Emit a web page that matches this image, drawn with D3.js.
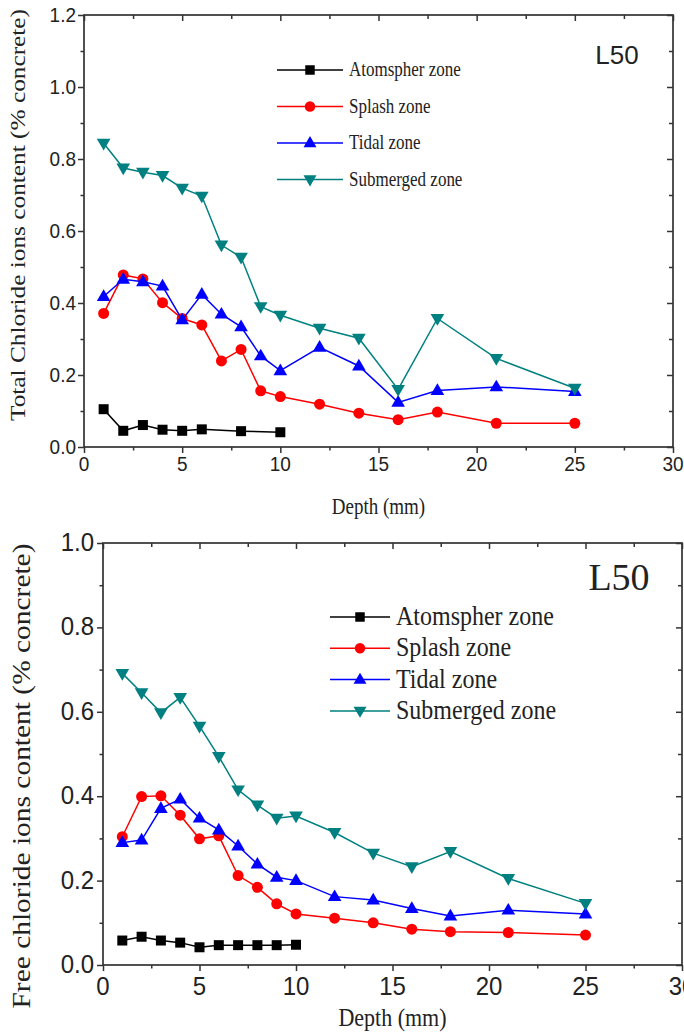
<!DOCTYPE html>
<html>
<head>
<meta charset="utf-8">
<script src="https://cdn.jsdelivr.net/npm/d3@7"></script>
<style>
  html, body { margin: 0; padding: 0; background: #fff; }
  svg { display: block; }
</style>
</head>
<body>
<svg id="chart" width="684" height="1034"></svg>
<script>
// Depths (mm) at which chloride content was sampled
const depthsAll = [1, 2, 3, 4, 5, 6, 7, 8, 9, 10, 12, 14, 16, 18, 21, 25];
const depthsAtmTotal = [1, 2, 3, 4, 5, 6, 8, 10];
const depthsAtmFree = [1, 2, 3, 4, 5, 6, 7, 8, 9, 10];

const zoneNames = ["Atomspher zone", "Splash zone", "Tidal zone", "Submerged zone"];
const zoneColors = ["#000000", "#ff0000", "#0000ff", "#008080"];
const zoneSymbols = ["square", "circle", "triangleUp", "triangleDown"];

// Total chloride ions content (% concrete)
const totalAtm = [0.105, 0.045, 0.061, 0.048, 0.045, 0.049, 0.044, 0.041];
const totalSplash = [0.371, 0.478, 0.467, 0.401, 0.357, 0.339, 0.239, 0.271, 0.156, 0.140, 0.119, 0.094, 0.076, 0.097, 0.066, 0.066];
const totalTidal = [0.418, 0.466, 0.459, 0.447, 0.353, 0.424, 0.369, 0.334, 0.253, 0.212, 0.277, 0.225, 0.124, 0.157, 0.167, 0.154];
const totalSubmerged = [0.844, 0.775, 0.763, 0.754, 0.719, 0.697, 0.561, 0.527, 0.390, 0.366, 0.330, 0.302, 0.160, 0.357, 0.246, 0.163];

// Free chloride ions content (% concrete)
const freeAtm = [0.058, 0.067, 0.058, 0.053, 0.042, 0.047, 0.047, 0.047, 0.047, 0.048];
const freeSplash = [0.304, 0.399, 0.401, 0.355, 0.299, 0.306, 0.212, 0.184, 0.145, 0.121, 0.111, 0.100, 0.085, 0.079, 0.077, 0.071];
const freeTidal = [0.290, 0.296, 0.371, 0.393, 0.348, 0.320, 0.282, 0.239, 0.208, 0.200, 0.162, 0.154, 0.134, 0.116, 0.130, 0.121];
const freeSubmerged = [0.691, 0.645, 0.598, 0.634, 0.566, 0.494, 0.415, 0.379, 0.348, 0.353, 0.314, 0.265, 0.233, 0.269, 0.205, 0.146];

// Axis ticks
const xTicks = [0, 5, 10, 15, 20, 25, 30];
const yTicksTotal = [0.0, 0.2, 0.4, 0.6, 0.8, 1.0, 1.2];
const yTicksFree = [0.0, 0.2, 0.4, 0.6, 0.8, 1.0];

const svg = d3.select("#chart");

function symbolPath(kind, size) {
  const s = size;
  if (kind === "square") return d3.symbol(d3.symbolSquare, s * s)();
  if (kind === "circle") return d3.symbol(d3.symbolCircle, Math.PI * (s / 2) * (s / 2))();
  const h = s * 0.9, w = s * 1.05;
  if (kind === "triangleUp") return `M0,${-h * 0.62}L${w / 2},${h * 0.38}L${-w / 2},${h * 0.38}Z`;
  return `M0,${h * 0.62}L${w / 2},${-h * 0.38}L${-w / 2},${-h * 0.38}Z`;
}

function stretchedText(g, x, y, str, opts) {
  return g.append("text")
    .attr("transform", `translate(${x},${y}) scale(1,${opts.sy || 1})`)
    .attr("font-family", opts.family)
    .attr("font-size", opts.size)
    .attr("text-anchor", opts.anchor || "start")
    .attr("fill", opts.fill || "#222")
    .text(str);
}

function drawPanel(cfg) {
  const g = svg.append("g");
  const x = d3.scaleLinear().domain([0, 30]).range([cfg.left, cfg.right]);
  const y = d3.scaleLinear().domain([0, cfg.yMax]).range([cfg.bottom, cfg.top]);
  const axisColor = "#333";

  // frame
  g.append("rect")
    .attr("x", cfg.left).attr("y", cfg.top)
    .attr("width", cfg.right - cfg.left).attr("height", cfg.bottom - cfg.top)
    .attr("fill", "none").attr("stroke", axisColor).attr("stroke-width", 1.7);

  const xMinor = d3.range(2.5, 30, 5);
  const yMinor = d3.range(0.1, cfg.yMax, 0.2);

  function ticks(axis, translate, values, size) {
    g.append("g").attr("transform", translate)
      .call(axis.tickValues(values).tickSize(size).tickFormat(""))
      .call(a => a.select(".domain").remove())
      .selectAll("line").attr("stroke", axisColor).attr("stroke-width", 1.5);
  }

  // bottom and left ticks point outward, top and right ticks point inward
  ticks(d3.axisBottom(x), `translate(0,${cfg.bottom})`, xTicks, 6);
  ticks(d3.axisBottom(x), `translate(0,${cfg.bottom})`, xMinor, 3.5);
  ticks(d3.axisTop(x), `translate(0,${cfg.top})`, xTicks, -6);
  ticks(d3.axisTop(x), `translate(0,${cfg.top})`, xMinor, -4);
  ticks(d3.axisLeft(y), `translate(${cfg.left},0)`, cfg.yTicks, 6);
  ticks(d3.axisLeft(y), `translate(${cfg.left},0)`, yMinor, 3.5);
  ticks(d3.axisRight(y), `translate(${cfg.right},0)`, cfg.yTicks, -6);
  ticks(d3.axisRight(y), `translate(${cfg.right},0)`, yMinor, -4);

  // tick labels
  const tickFont = { family: "'Liberation Sans', Arial, sans-serif", size: cfg.tickSize, sy: cfg.tickStretch, anchor: "middle" };
  xTicks.forEach(v => stretchedText(g, x(v), cfg.bottom + cfg.xLabelDy, String(v), tickFont));
  cfg.yTicks.forEach(v => stretchedText(g, cfg.left - cfg.yLabelDx, y(v) + cfg.yLabelDy, d3.format(".1f")(v),
    Object.assign({}, tickFont, { anchor: "end" })));

  // axis titles
  const serif = "'Liberation Serif', 'Times New Roman', serif";
  stretchedText(g, (cfg.left + cfg.right) / 2, cfg.xTitleY, "Depth (mm)",
    { family: serif, size: cfg.titleSize, sy: cfg.serifStretch, anchor: "middle" });
  g.append("text")
    .attr("transform", `translate(${cfg.yTitleX},${(cfg.top + cfg.bottom) / 2 + cfg.yTitleShift}) rotate(-90)`)
    .attr("font-family", serif).attr("font-size", cfg.yTitleSize)
    .attr("text-anchor", "middle").attr("fill", "#222")
    .attr("textLength", cfg.yTitleLength).attr("lengthAdjust", "spacingAndGlyphs")
    .text(cfg.yTitle);

  // series
  const line = d3.line().x(d => x(d[0])).y(d => y(d[1]));
  cfg.series.forEach((s, i) => {
    const pts = s.depths.map((d, k) => [d, s.values[k]]);
    g.append("path").datum(pts).attr("d", line)
      .attr("fill", "none").attr("stroke", zoneColors[i]).attr("stroke-width", 1.5);
    g.append("g").selectAll("path").data(pts).join("path")
      .attr("transform", d => `translate(${x(d[0])},${y(d[1])})`)
      .attr("d", symbolPath(zoneSymbols[i], cfg.markerSize[i]))
      .attr("fill", zoneColors[i]);
  });

  // legend
  zoneNames.forEach((name, i) => {
    const ly = cfg.legendY + i * cfg.legendGap;
    g.append("line")
      .attr("x1", cfg.legendX).attr("x2", cfg.legendX + cfg.legendLine)
      .attr("y1", ly).attr("y2", ly)
      .attr("stroke", zoneColors[i]).attr("stroke-width", 1.5);
    g.append("path")
      .attr("transform", `translate(${cfg.legendX + cfg.legendLine / 2},${ly})`)
      .attr("d", symbolPath(zoneSymbols[i], cfg.markerSize[i] * 0.95))
      .attr("fill", zoneColors[i]);
    stretchedText(g, cfg.legendX + cfg.legendLine + 6, ly + cfg.legendTextDy, name,
      { family: serif, size: cfg.legendSize, sy: cfg.serifStretch });
  });

  // panel tag
  stretchedText(g, cfg.tagX, cfg.tagY, "L50",
    { family: cfg.tagFamily, size: cfg.tagSize, sy: 1, anchor: "middle" });
}

drawPanel({
  left: 84, right: 673, top: 15, bottom: 447, yMax: 1.2,
  yTicks: yTicksTotal,
  tickSize: 19, tickStretch: 1.1, xLabelDy: 24, yLabelDx: 8, yLabelDy: 7,
  titleSize: 19, serifStretch: 1.25, xTitleY: 514, yTitleX: 25, yTitleSize: 22, yTitleShift: -16, yTitleLength: 412,
  yTitle: "Total Chloride ions content (% concrete)",
  markerSize: [10, 11, 13, 13],
  series: [
    { depths: depthsAtmTotal, values: totalAtm },
    { depths: depthsAll, values: totalSplash },
    { depths: depthsAll, values: totalTidal },
    { depths: depthsAll, values: totalSubmerged }
  ],
  legendX: 277, legendY: 70, legendGap: 36.5, legendLine: 66, legendTextDy: 6, legendSize: 17,
  tagX: 617, tagY: 64, tagSize: 26, tagFamily: "'Liberation Sans', Arial, sans-serif"
});

drawPanel({
  left: 103, right: 682, top: 543, bottom: 965, yMax: 1.0,
  yTicks: yTicksFree,
  tickSize: 24, tickStretch: 1.05, xLabelDy: 30, yLabelDx: 9, yLabelDy: 8,
  titleSize: 22, serifStretch: 1.1, xTitleY: 1026, yTitleX: 30, yTitleSize: 26, yTitleShift: 22, yTitleLength: 465,
  yTitle: "Free chloride ions content (% concrete)",
  markerSize: [10, 11, 13, 13],
  series: [
    { depths: depthsAtmFree, values: freeAtm },
    { depths: depthsAll, values: freeSplash },
    { depths: depthsAll, values: freeTidal },
    { depths: depthsAll, values: freeSubmerged }
  ],
  legendX: 330, legendY: 617, legendGap: 31.3, legendLine: 60, legendTextDy: 8, legendSize: 24,
  tagX: 619, tagY: 590, tagSize: 38, tagFamily: "'Liberation Serif', 'Times New Roman', serif"
});
</script>
</body>
</html>
